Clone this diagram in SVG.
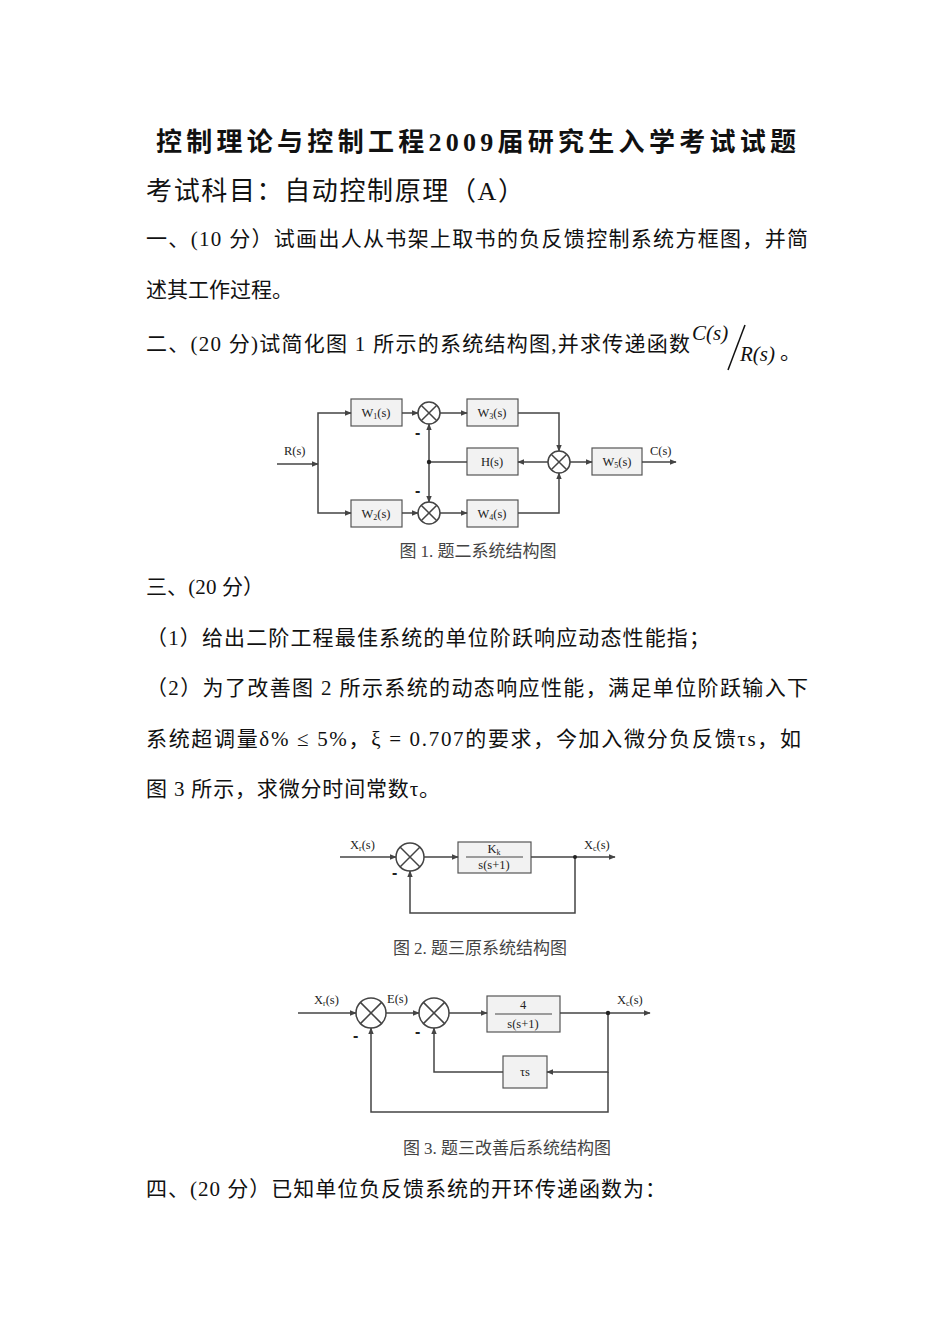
<svg xmlns="http://www.w3.org/2000/svg" width="950" height="1344" viewBox="0 0 950 1344">
<defs>
<style>
.t{font-family:"Liberation Serif","Noto Sans CJK SC",serif;font-size:21px;fill:#111}
.cap{font-family:"Liberation Serif","Noto Sans CJK SC",serif;font-size:17px;fill:#444}
.lb{font-family:"Liberation Serif",serif;font-size:12.5px;fill:#222}
.m{font-family:"Liberation Sans",sans-serif;font-size:16px;font-weight:bold;fill:#222}
.bx{fill:#f2f2f2;stroke:#555;stroke-width:1.2}
.sj{fill:#fff;stroke:#444;stroke-width:1.5}
.ln{fill:none;stroke:#444;stroke-width:1.5}
</style>
<marker id="a" viewBox="0 0 10 10" refX="9" refY="5" markerWidth="7" markerHeight="7" orient="auto" markerUnits="userSpaceOnUse"><path d="M0,1 L10,5 L0,9 z" fill="#444"/></marker>
</defs>
<rect width="950" height="1344" fill="#fff"/>
<text x="476" y="151" text-anchor="middle" class="t" style="font-size:26px;font-weight:bold" textLength="640">控制理论与控制工程2009届研究生入学考试试题</text>
<text x="146" y="200" class="t" style="font-size:26px" textLength="378">考试科目：自动控制原理（A）</text>
<text x="146" y="246" class="t" textLength="662">一、(10 分）试画出人从书架上取书的负反馈控制系统方框图，并简</text>
<text x="146" y="297" class="t">述其工作过程。</text>
<text x="146" y="351" class="t" textLength="544">二、(20 分)试简化图 1 所示的系统结构图,并求传递函数</text>
<text x="692" y="340" class="t" style="font-style:italic">C(s)</text>
<line x1="745" y1="325" x2="728" y2="370" stroke="#111" stroke-width="1.5"/>
<text x="740" y="361" class="t" style="font-style:italic">R(s)</text>
<text x="780" y="359" class="t">。</text>

<g id="fig1">
<g id="W1"><rect class="bx" x="351" y="399" width="51" height="27"/><text class="lb" x="376" y="417" text-anchor="middle">W<tspan font-size="8" dy="2">1</tspan><tspan dy="-2">(s)</tspan></text></g>
<g id="W2"><rect class="bx" x="351" y="500" width="51" height="27"/><text class="lb" x="376" y="518" text-anchor="middle">W<tspan font-size="8" dy="2">2</tspan><tspan dy="-2">(s)</tspan></text></g>
<g id="W3"><rect class="bx" x="467" y="399" width="51" height="27"/><text class="lb" x="492" y="417" text-anchor="middle">W<tspan font-size="8" dy="2">3</tspan><tspan dy="-2">(s)</tspan></text></g>
<g id="W4"><rect class="bx" x="467" y="500" width="51" height="27"/><text class="lb" x="492" y="518" text-anchor="middle">W<tspan font-size="8" dy="2">4</tspan><tspan dy="-2">(s)</tspan></text></g>
<g id="H"><rect class="bx" x="467" y="448" width="51" height="27"/><text class="lb" x="492" y="466" text-anchor="middle">H(s)</text></g>
<g id="W5"><rect class="bx" x="592" y="448" width="50" height="27"/><text class="lb" x="617" y="466" text-anchor="middle">W<tspan font-size="8" dy="2">5</tspan><tspan dy="-2">(s)</tspan></text></g>
<g id="S1"><circle class="sj" cx="429" cy="413" r="11"/><path class="ln" d="M421.2,405.2 L436.8,420.8 M436.8,405.2 L421.2,420.8"/></g>
<g id="S2"><circle class="sj" cx="429" cy="513" r="11"/><path class="ln" d="M421.2,505.2 L436.8,520.8 M436.8,505.2 L421.2,520.8"/></g>
<g id="S3"><circle class="sj" cx="559" cy="462" r="11"/><path class="ln" d="M551.2,454.2 L566.8,469.8 M566.8,454.2 L551.2,469.8"/></g>
<g id="c1">
<path class="ln" d="M277,464 H318" marker-end="url(#a)"/>
<path class="ln" d="M318,464 V413 H351" marker-end="url(#a)"/>
<path class="ln" d="M318,464 V513 H351" marker-end="url(#a)"/>
<path class="ln" d="M402,413 H418" marker-end="url(#a)"/>
<path class="ln" d="M402,513 H418" marker-end="url(#a)"/>
<path class="ln" d="M440,413 H467" marker-end="url(#a)"/>
<path class="ln" d="M440,513 H467" marker-end="url(#a)"/>
<path class="ln" d="M518,413 H559 V451" marker-end="url(#a)"/>
<path class="ln" d="M518,513 H559 V473" marker-end="url(#a)"/>
<path class="ln" d="M548,462 H518" marker-end="url(#a)"/>
<path class="ln" d="M467,462 H429"/>
<path class="ln" d="M429,462 V424" marker-end="url(#a)"/>
<path class="ln" d="M429,462 V502" marker-end="url(#a)"/>
<path class="ln" d="M570,462 H592" marker-end="url(#a)"/>
<path class="ln" d="M642,462 H676" marker-end="url(#a)"/>
<circle cx="429" cy="462" r="2.2" fill="#222"/>
</g>
<text class="lb" x="284" y="455">R(s)</text>
<text class="lb" x="650" y="455">C(s)</text>
<text class="m" x="415" y="438">-</text>
<text class="m" x="415" y="496">-</text>
<text class="cap" x="478" y="557" text-anchor="middle">图 1. 题二系统结构图</text>
</g>

<text x="146" y="594" class="t" textLength="118">三、(20 分）</text>
<text x="146" y="645" class="t" textLength="564">（1）给出二阶工程最佳系统的单位阶跃响应动态性能指；</text>
<text x="146" y="695" class="t" textLength="662">（2）为了改善图 2 所示系统的动态响应性能，满足单位阶跃输入下</text>
<text x="146" y="746" class="t" textLength="655">系统超调量δ% ≤ 5%，ξ = 0.707的要求，今加入微分负反馈τs，如</text>
<text x="146" y="796" class="t" textLength="294">图 3 所示，求微分时间常数τ。</text>

<g id="fig2">
<g id="S21"><circle class="sj" cx="410" cy="857" r="14"/><path class="ln" d="M400,847 L420,867 M420,847 L400,867"/></g>
<g id="G2"><rect class="bx" x="458" y="842" width="73" height="31"/><text class="lb" x="494" y="853" text-anchor="middle">K<tspan font-size="8" dy="2">k</tspan></text><line x1="466" y1="857" x2="523" y2="857" stroke="#444"/><text class="lb" x="494" y="869" text-anchor="middle">s(s+1)</text></g>
<g id="c2">
<path class="ln" d="M340,857 H396" marker-end="url(#a)"/>
<path class="ln" d="M424,857 H458" marker-end="url(#a)"/>
<path class="ln" d="M531,857 H615" marker-end="url(#a)"/>
<path class="ln" d="M575,857 V913 H410 V871" marker-end="url(#a)"/>
<circle cx="575" cy="857" r="2" fill="#222"/>
</g>
<text class="lb" x="350" y="849">X<tspan font-size="8" dy="2">r</tspan><tspan dy="-2">(s)</tspan></text>
<text class="lb" x="584" y="849">X<tspan font-size="8" dy="2">c</tspan><tspan dy="-2">(s)</tspan></text>
<text class="m" x="392" y="878">-</text>
<text class="cap" x="480" y="954" text-anchor="middle">图 2. 题三原系统结构图</text>
</g>

<g id="fig3">
<g id="S31"><circle class="sj" cx="371" cy="1013" r="15"/><path class="ln" d="M360.4,1002.4 L381.6,1023.6 M381.6,1002.4 L360.4,1023.6"/></g>
<g id="S32"><circle class="sj" cx="434" cy="1013" r="15"/><path class="ln" d="M423.4,1002.4 L444.6,1023.6 M444.6,1002.4 L423.4,1023.6"/></g>
<g id="G3"><rect class="bx" x="487" y="996" width="73" height="36"/><text class="lb" x="523" y="1009" text-anchor="middle">4</text><line x1="495" y1="1014" x2="552" y2="1014" stroke="#444"/><text class="lb" x="523" y="1028" text-anchor="middle">s(s+1)</text></g>
<g id="T"><rect class="bx" x="503" y="1056" width="44" height="32"/><text class="lb" x="525" y="1076" text-anchor="middle">τs</text></g>
<g id="c3">
<path class="ln" d="M298,1013 H356" marker-end="url(#a)"/>
<path class="ln" d="M386,1013 H419" marker-end="url(#a)"/>
<path class="ln" d="M449,1013 H487" marker-end="url(#a)"/>
<path class="ln" d="M560,1013 H650" marker-end="url(#a)"/>
<path class="ln" d="M608,1013 V1072 H547" marker-end="url(#a)"/>
<path class="ln" d="M503,1072 H434 V1028" marker-end="url(#a)"/>
<path class="ln" d="M608,1072 V1112 H371 V1028" marker-end="url(#a)"/>
<circle cx="608" cy="1013" r="2.2" fill="#222"/>
</g>
<text class="lb" x="314" y="1004">X<tspan font-size="8" dy="2">r</tspan><tspan dy="-2">(s)</tspan></text>
<text class="lb" x="387" y="1003">E(s)</text>
<text class="lb" x="617" y="1004">X<tspan font-size="8" dy="2">c</tspan><tspan dy="-2">(s)</tspan></text>
<text class="m" x="353" y="1041">-</text>
<text class="m" x="415" y="1037">-</text>
<text class="cap" x="507" y="1154" text-anchor="middle">图 3. 题三改善后系统结构图</text>
</g>

<text x="146" y="1196" class="t" textLength="520">四、(20 分）已知单位负反馈系统的开环传递函数为：</text>
</svg>
